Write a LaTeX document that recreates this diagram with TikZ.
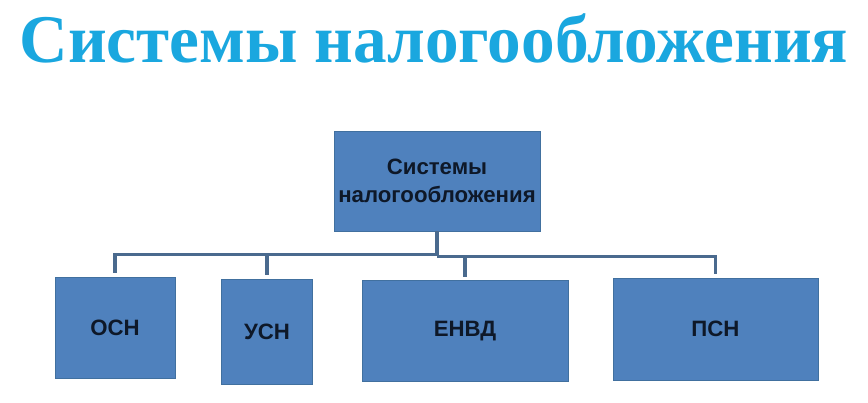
\documentclass[tikz,border=0pt]{standalone}
\usepackage{fontspec}
\setmainfont{Liberation Sans}
\newfontfamily\titlefont{Liberation Serif}
\usepackage{tikz}
\usetikzlibrary{positioning,calc}
\usepackage{xcolor}
\definecolor{heading}{HTML}{1AA7DF}
\definecolor{boxfill}{HTML}{4F81BD}
\definecolor{boxline}{HTML}{41709F}
\definecolor{boxtext}{HTML}{0E1828}
\definecolor{busline}{HTML}{4A6A8E}
\tikzset{
  sysbox/.style={draw=boxline,fill=boxfill,thin,align=center,inner sep=0pt,
    text=boxtext,font=\bfseries\fontsize{15.8}{19.5}\selectfont},
  link/.style={draw=busline,line width=2.2pt,shorten >=2.6pt}
}

\begin{document}
\begin{tikzpicture}[x=0.025cm,y=-0.025cm]
  \useasboundingbox (0,0) rectangle (868,402);
  \node[inner sep=0pt,anchor=south,text=heading] (title) at (434,63)
    {\resizebox{20.7cm}{1.22cm}{\titlefont\bfseries Системы налогообложения}};
  \node[sysbox,minimum width=5.15cm,minimum height=2.5cm] (sys) at (437,181)
    {Системы\\налогообложения};
  \node[sysbox,minimum width=3cm,minimum height=2.525cm] (osn) at (115,327.5) {ОСН};
  \node[sysbox,minimum width=2.275cm,minimum height=2.625cm] (usn) at (267,331.5) {УСН};
  \node[sysbox,minimum width=5.15cm,minimum height=2.525cm] (envd) at (465,331) {ЕНВД};
  \node[sysbox,minimum width=5.125cm,minimum height=2.55cm] (psn) at (715.5,329) {ПСН};
  % шина
  \coordinate (busl) at ($(sys.south)+(0,23)$);
  \coordinate (busr) at ($(sys.south)+(0,25)$);
  \draw[link,shorten >=0pt] (sys.south) -- (busr);
  \draw[link] (busl) -| (osn.north);
  \draw[link] (busl) -| (usn.north);
  \draw[link] (busr) -| (envd.north);
  \draw[link] (busr) -| (psn.north);
\end{tikzpicture}
\end{document}
